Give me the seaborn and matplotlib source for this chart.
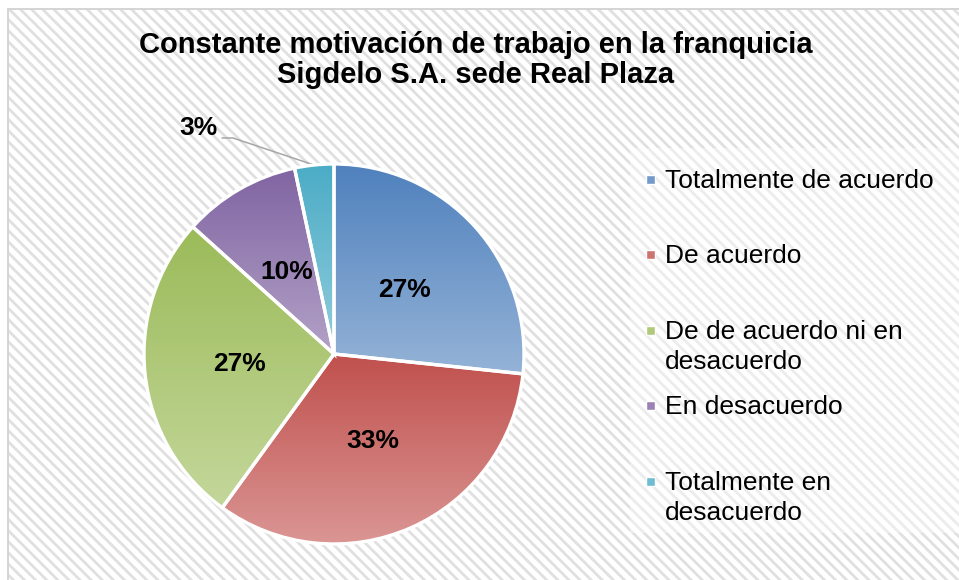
import matplotlib
matplotlib.use("Agg")
import matplotlib.pyplot as plt
import seaborn as sns
import numpy as np
from matplotlib.colors import to_rgb
from matplotlib.patches import Rectangle

# data
categorias = ['Totalmente de acuerdo', 'De acuerdo',
              'De de acuerdo ni en\ndesacuerdo', 'En desacuerdo',
              'Totalmente en\ndesacuerdo']
respuestas = [8, 10, 8, 3, 1]
titulo = 'Constante motivación de trabajo en la franquicia\nSigdelo S.A. sede Real Plaza'

# colores tipo Excel (arriba oscuro, abajo claro)
color_top = sns.color_palette(['#4F81BD', '#C0504D', '#9BBB59', '#8064A2', '#4BACC6'])
color_bot = sns.color_palette(['#95B3D7', '#DA9694', '#C4D79B', '#B3A2C7', '#92CDDC'])

sns.set_theme(style='white')
plt.rcParams['font.family'] = ['Liberation Sans', 'DejaVu Sans']
plt.rcParams['text.color'] = 'black'
plt.rcParams['hatch.color'] = '#E0E0E0'
plt.rcParams['hatch.linewidth'] = 2.0

W, H = 959, 580
fig = plt.figure(figsize=(W / 100, H / 100), dpi=100, facecolor='white')


def fx(x):
    return x / W


def fy(y):
    return 1 - y / H


# fondo rayado + borde
fig.add_artist(Rectangle((fx(8), -0.02), 1.05, fy(9) + 0.02, transform=fig.transFigure,
                         facecolor='white', edgecolor='#E0E0E0', hatch='\\\\\\',
                         linewidth=0, zorder=-3))
fig.add_artist(Rectangle((fx(8), -0.02), 1.05, fy(9) + 0.02, transform=fig.transFigure,
                         fill=False, edgecolor='#D4D4D4', linewidth=1.4, zorder=-2))
fig.add_artist(Rectangle((fx(630), fy(533)), 1.0, (533 - 148) / H, transform=fig.transFigure,
                         facecolor='white', alpha=0.4, linewidth=0, zorder=-1))

# pie
cx, cy, r = 334, 354, 190
ax = fig.add_axes([fx(cx - r), fy(cy + r), 2 * r / W, 2 * r / H])
ax.set_facecolor('none')

wedges, texts, autotexts = ax.pie(
    respuestas, startangle=90, counterclock=False, radius=1,
    autopct='%.0f%%', pctdistance=0.5,
    wedgeprops=dict(edgecolor='white', linewidth=2.4),
    textprops=dict(fontsize=19, fontweight='bold', color='black'))

for w, c0, c1 in zip(wedges, color_top, color_bot):
    ext = w.get_path().get_extents()
    t = np.linspace(0, 1, 256)[:, None]
    grad = (1 - t) * np.array(to_rgb(c0)) + t * np.array(to_rgb(c1))
    grad = np.repeat(grad[:, None, :], 2, axis=1)
    im = ax.imshow(grad, extent=(ext.x0, ext.x1, ext.y0, ext.y1),
                   origin='upper', aspect='auto', interpolation='bilinear', zorder=1)
    im.set_clip_path(w)
    w.set_facecolor('none')
    w.set_zorder(3)

for t in autotexts:
    t.set_zorder(5)

# etiqueta del 3% fuera con linea guia
w = wedges[-1]
ang = np.deg2rad((w.theta1 + w.theta2) / 2)
px, py = np.cos(ang), np.sin(ang)
lab = autotexts[-1]
lab.set_position((-0.713, 1.187))
ax.plot([-0.589, -0.532, px], [1.137, 1.137, py], color='#A6A6A6', lw=1.1,
        clip_on=False, zorder=2)

ax.set_xlim(-1, 1)
ax.set_ylim(-1, 1)
ax.set_aspect('equal')
ax.axis('off')

# titulo
fig.text(fx(476), fy(83), titulo, ha='center', va='baseline', fontsize=21,
         fontweight='bold', linespacing=1.1, multialignment='center', color='black')

# leyenda
bases = [188, 263, 339, 414, 490]
for lbl, base, c0, c1 in zip(categorias, bases, color_top, color_bot):
    mid = 0.5 * (np.array(to_rgb(c0)) + np.array(to_rgb(c1)))
    fig.add_artist(Rectangle((fx(646), fy(base - 4)), 9 / W, 9 / H, transform=fig.transFigure,
                             facecolor=mid, edgecolor='white', linewidth=1.0, zorder=2))
    for j, line in enumerate(lbl.split('\n')):
        fig.text(fx(665), fy(base + 30 * j), line, ha='left', va='baseline',
                 fontsize=19, color='black')

fig.savefig('out.png', dpi=100, facecolor='white')
